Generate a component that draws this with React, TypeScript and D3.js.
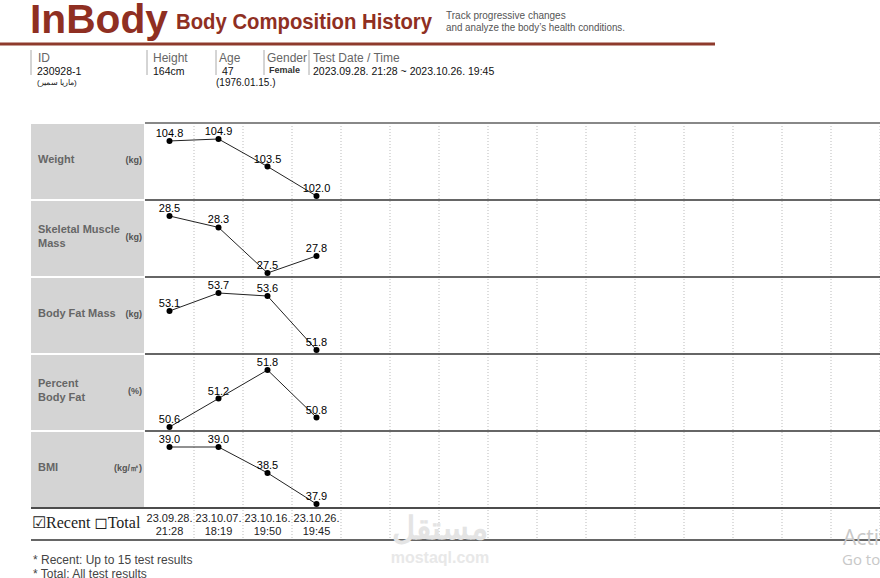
import React from 'react';
import * as d3 from 'd3';

// test dates / times (bottom row)
const dates = ['23.09.28.', '23.10.07.', '23.10.16.', '23.10.26.'];
const times = ['21:28', '18:19', '19:50', '19:45'];

// one array per measured item
const weight = [104.8, 104.9, 103.5, 102.0];
const skeletalMuscle = [28.5, 28.3, 27.5, 27.8];
const bodyFatMass = [53.1, 53.7, 53.6, 51.8];
const percentBodyFat = [50.6, 51.2, 51.8, 50.8];
const bmi = [39.0, 39.0, 38.5, 37.9];

const rowNames = [['Weight'], ['Skeletal Muscle', 'Mass'], ['Body Fat Mass'], ['Percent', 'Body Fat'], ['BMI']];
const rowUnits = ['(kg)', '(kg)', '(kg)', '(%)', '(kg/㎡)'];
const rowValues = [weight, skeletalMuscle, bodyFatMass, percentBodyFat, bmi];

const maxTests = 15;

const W = 880;
const H = 578;
const chartLeft = 145;
const chartTop = 123;
const rowH = 77;
const dateRowBottom = 540;

const ARIAL = 'Arial, "Liberation Sans", sans-serif';

const App = () => {
  const x = d3
    .scaleBand<number>()
    .domain(d3.range(maxTests))
    .range([chartLeft, W]);
  const cx = (i: number) => (x(i) as number) + x.bandwidth() / 2;
  const colLines = d3.range(1, maxTests + 1).map((k) => chartLeft + k * x.bandwidth());

  return (
    <svg
      width={W}
      height={H}
      style={{ position: 'absolute', left: 0, top: 0, display: 'block', background: '#fff' }}
      fontFamily={ARIAL}
    >
      {/* header */}
      <text x={30} y={33} fontSize={41} fontWeight="bold" fill="#8f2f22" textLength={138} lengthAdjust="spacingAndGlyphs">
        InBody
      </text>
      <text x={176} y={29} fontSize={22} fontWeight="bold" fill="#8f2f22" textLength={256} lengthAdjust="spacingAndGlyphs">
        Body Composition History
      </text>
      <text x={446} y={19} fontSize={10} fill="#555">Track progressive changes</text>
      <text x={446} y={31} fontSize={10} fill="#555" textLength={179} lengthAdjust="spacingAndGlyphs">
        and analyze the body’s health conditions.
      </text>
      <line x1={0} x2={715} y1={44} y2={44} stroke="#8e3a2c" strokeWidth={3} />

      {/* patient info */}
      {[31, 147, 216, 264, 309].map((sx) => (
        <line key={sx} x1={sx} x2={sx} y1={50} y2={75} stroke="#aaa" strokeWidth={1} />
      ))}
      <g fontSize={12} fill="#666">
        <text x={38} y={62}>ID</text>
        <text x={153} y={62}>Height</text>
        <text x={219} y={62}>Age</text>
        <text x={267} y={62}>Gender</text>
        <text x={313} y={62}>Test Date / Time</text>
      </g>
      <g fontSize={10.5} fill="#111">
        <text x={37} y={75}>230928-1</text>
        <text x={153} y={75}>164cm</text>
        <text x={222} y={75}>47</text>
        <text x={313} y={75}>2023.09.28. 21:28 ~ 2023.10.26. 19:45</text>
        <text x={216} y={86} fontSize={10}>(1976.01.15.)</text>
      </g>
      <text x={269} y={73} fontSize={9} fontWeight="bold" fill="#333">Female</text>
      <text x={37} y={85} fontSize={8} fill="#222">(ماريا سمير)</text>

      {/* left label boxes */}
      {rowNames.map((name, r) => {
        const top = chartTop + r * rowH;
        const mid = top + rowH / 2;
        return (
          <g key={r}>
            <rect x={31} y={top + 1} width={113} height={rowH - 2} fill="#d4d4d4" />
            {name.map((ln, j) => (
              <text
                key={j}
                x={38}
                y={mid + 1 + (j - (name.length - 1) / 2) * 14}
                fontSize={11}
                fontWeight="bold"
                fill="#666"
              >
                {ln}
              </text>
            ))}
            <text x={142} y={mid + 1} fontSize={9} fontWeight="bold" fill="#555" textAnchor="end">
              {rowUnits[r]}
            </text>
          </g>
        );
      })}

      {/* dotted column grid */}
      {colLines.map((gx) => (
        <line key={gx} x1={gx} x2={gx} y1={chartTop} y2={dateRowBottom} stroke="#bbb" strokeWidth={1} strokeDasharray="1,2" />
      ))}

      {/* row separators */}
      <line x1={chartLeft} x2={W} y1={chartTop} y2={chartTop} stroke="#888" strokeWidth={2} />
      {d3.range(1, rowNames.length).map((r) => (
        <line key={r} x1={chartLeft} x2={W} y1={chartTop + r * rowH} y2={chartTop + r * rowH} stroke="#333" strokeWidth={1.6} />
      ))}
      <line x1={31} x2={W} y1={chartTop + 5 * rowH} y2={chartTop + 5 * rowH} stroke="#111" strokeWidth={1.5} />
      <line x1={31} x2={W} y1={dateRowBottom} y2={dateRowBottom} stroke="#666" strokeWidth={2} />

      {/* series */}
      {rowValues.map((vals, r) => {
        const top = chartTop + r * rowH;
        const y = d3
          .scaleLinear()
          .domain([d3.min(vals) as number, d3.max(vals) as number])
          .range([top + rowH - 4, top + 16]);
        const line = d3
          .line<number>()
          .x((d, i) => cx(i))
          .y((d) => y(d));
        return (
          <g key={r}>
            <path d={line(vals) || ''} fill="none" stroke="#222" strokeWidth={1} />
            {vals.map((v, i) => (
              <g key={i}>
                <circle cx={cx(i)} cy={y(v)} r={3} fill="#000" />
                <text x={cx(i)} y={y(v) - 4} fontSize={11} fill="#000" textAnchor="middle">
                  {v.toFixed(1)}
                </text>
              </g>
            ))}
          </g>
        );
      })}

      {/* date row */}
      <text x={32} y={528} fontSize={16} fill="#222" fontFamily='"Liberation Serif", "DejaVu Serif", serif'>
        ☑Recent ◻Total
      </text>
      {dates.map((d, i) => (
        <g key={i} fontSize={11} fill="#222" textAnchor="middle">
          <text x={cx(i)} y={522}>{d}</text>
          <text x={cx(i)} y={535}>{times[i]}</text>
        </g>
      ))}

      {/* footnotes */}
      <text x={33} y={564} fontSize={12} fill="#444">* Recent: Up to 15 test results</text>
      <text x={33} y={578} fontSize={12} fill="#444">* Total: All test results</text>

      {/* overlays seen on the screenshot */}
      <text x={440} y={539} fontSize={32} fontWeight="bold" fill="#e4e4e4" textAnchor="middle" fontFamily='"Noto Sans", sans-serif'>
        مستقل
      </text>
      <text x={440} y={563} fontSize={16} fontWeight="bold" fill="#e8e8e8" textAnchor="middle">mostaql.com</text>
      <text x={843} y={545} fontSize={21} fill="#c8c8c8" fontFamily='"Open Sans", sans-serif'>Activ</text>
      <text x={842} y={565} fontSize={15} fill="#c8c8c8" fontFamily='"Open Sans", sans-serif'>Go to</text>
    </svg>
  );
};

export default App;
